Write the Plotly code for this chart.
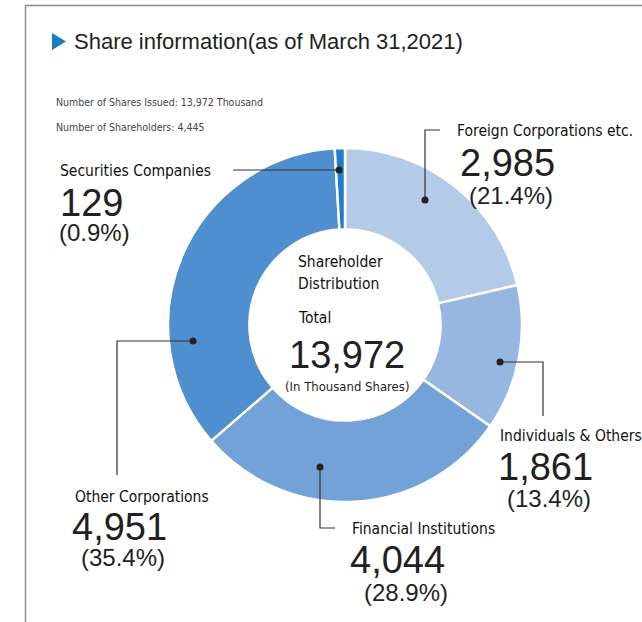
import plotly.graph_objects as go

W, H = 642, 622

categories = ["Foreign Corporations etc.", "Individuals & Others", "Financial Institutions",
              "Other Corporations", "Securities Companies"]
values = [2985, 1861, 4044, 4951, 129]
percents = ["21.4%", "13.4%", "28.9%", "35.4%", "0.9%"]
colors = ["#b4cbe8", "#98b7e0", "#72a2d8", "#4f8fcf", "#1f7cc6"]
total = 13972
shareholders = 4445

def px(x):
    return x / W

def py(y):
    return 1 - y / H

fig = go.Figure()
fig.add_trace(go.Pie(
    labels=categories, values=values, hole=0.54, sort=False, direction="clockwise",
    rotation=0, marker=dict(colors=colors, line=dict(color="white", width=2.5)),
    textinfo="none", hoverinfo="label+value+percent", showlegend=False,
    domain=dict(x=[px(168), px(522)], y=[py(502), py(148)]),
))

NARROW = "DejaVu Sans Condensed, Roboto"
REG = "Liberation Sans"
DARK = "#231f20"

ann = []
def txt(x, y, s, size, font=REG, anchor="left", color=DARK):
    ann.append(dict(x=px(x), y=py(y), xref="paper", yref="paper", text=s, showarrow=False,
                    xanchor=anchor, yanchor="middle", font=dict(family=font, size=size, color=color)))

# title
txt(72, 42, "Share information(as of March 31,2021)", 22)
txt(54, 102, f"Number of Shares Issued: {total:,} Thousand", 10.5, NARROW, color="#444")
txt(54, 127, f"Number of Shareholders: {shareholders:,}", 10.5, NARROW, color="#444")

# label blocks: (name left x, name y, value center x, value y, pct center x, pct y)
blocks = {
    0: (455, 131, 507, 163, 511, 196),
    1: (498, 436, 545, 467, 549, 498),
    2: (350, 529, 397, 560, 406, 592),
    3: (73, 497, 119, 527, 123, 557),
    4: (58, 171, 92, 203, 95, 233),
}
for i, (nx, ny, vx, vy, qx, qy) in blocks.items():
    txt(nx, ny, categories[i], 15.5, NARROW, color="#111")
    txt(vx, vy, f"{values[i]:,}", 38, REG, anchor="center")
    txt(qx, qy, f"({percents[i]})", 24, REG, anchor="center")

# center text
txt(296, 262, "Shareholder", 15.5, NARROW, color="#111")
txt(296, 284, "Distribution", 15.5, NARROW, color="#111")
txt(296, 318, "Total", 15.5, NARROW, color="#111")
txt(347, 355, f"{total:,}", 38, REG, anchor="center")
txt(347, 386, "(In Thousand Shares)", 13, NARROW, anchor="center")

shapes = []
LC = "#333"
def line(pts):
    path = "M " + " L ".join(f"{px(x)},{py(y)}" for x, y in pts)
    shapes.append(dict(type="path", xref="paper", yref="paper", path=path,
                       line=dict(color=LC, width=1.2)))
def dot(x, y, r=3.5):
    shapes.append(dict(type="circle", xref="paper", yref="paper",
                       x0=px(x - r), x1=px(x + r), y0=py(y + r), y1=py(y - r),
                       fillcolor="#222", line=dict(width=0)))

line([(425, 200), (425, 130), (440, 130)]); dot(425, 200)
line([(339, 170), (233, 170)]); dot(339, 170)
line([(500, 362), (543, 362), (543, 416)]); dot(500, 362)
line([(320, 467), (320, 528), (335, 528)]); dot(320, 467)
line([(193, 341), (117, 341), (117, 475)]); dot(193, 341)

# frame
shapes.append(dict(type="path", xref="paper", yref="paper",
                   path=f"M {px(25.5)},0 L {px(25.5)},{py(5.5)} L 1,{py(5.5)}",
                   line=dict(color="#8a8a8a", width=1.5)))
# title triangle
shapes.append(dict(type="path", xref="paper", yref="paper",
                   path=f"M {px(52)},{py(33)} L {px(66)},{py(41.5)} L {px(52)},{py(50)} Z",
                   fillcolor="#1a7ac4", line=dict(width=0)))

fig.update_layout(width=W, height=H, margin=dict(l=0, r=0, t=0, b=0),
                  paper_bgcolor="white", plot_bgcolor="white",
                  annotations=ann, shapes=shapes)
fig.write_html("out.html")
